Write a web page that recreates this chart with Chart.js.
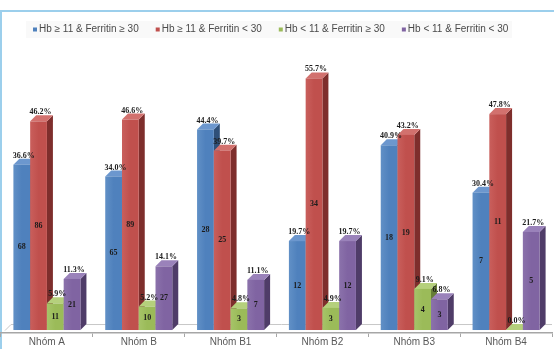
<!DOCTYPE html>
<html>
<head>
<meta charset="utf-8">
<script src="https://cdn.jsdelivr.net/npm/chart.js@4/dist/chart.umd.min.js"></script>
<style>
  html,body{margin:0;padding:0;background:#fff;}
  #wrap{position:relative;width:554px;height:349px;}
</style>
</head>
<body>
<div id="wrap"><canvas id="c" width="554" height="349"></canvas></div>
<script>
const categories = ['Nhóm A','Nhóm B','Nhóm B1','Nhóm B2','Nhóm B3','Nhóm B4'];
const seriesNames = ['Hb ≥ 11 & Ferritin ≥ 30','Hb ≥ 11 & Ferritin < 30','Hb < 11 & Ferritin ≥ 30','Hb < 11 & Ferritin < 30'];
const pctHbHighFerHigh = [36.6, 34.0, 44.4, 19.7, 40.9, 30.4];
const pctHbHighFerLow  = [46.2, 46.6, 39.7, 55.7, 43.2, 47.8];
const pctHbLowFerHigh  = [5.9, 5.2, 4.8, 4.9, 9.1, 0.0];
const pctHbLowFerLow   = [11.3, 14.1, 11.1, 19.7, 6.8, 21.7];
const cntHbHighFerHigh = [68, 65, 28, 12, 18, 7];
const cntHbHighFerLow  = [86, 89, 25, 34, 19, 11];
const cntHbLowFerHigh  = [11, 10, 3, 3, 4, 0];
const cntHbLowFerLow   = [21, 27, 7, 12, 3, 5];

const pctSeries = [pctHbHighFerHigh, pctHbHighFerLow, pctHbLowFerHigh, pctHbLowFerLow];
const cntSeries = [cntHbHighFerHigh, cntHbHighFerLow, cntHbLowFerHigh, cntHbLowFerLow];

const faceColors = [
  {front:'#4F81BD', light:'#6190C6', side:'#2F5079', top:'#6C97CE'},
  {front:'#C0504D', light:'#C95F5C', side:'#7E2E2C', top:'#D2716E'},
  {front:'#9BBB59', light:'#A6C469', side:'#667D37', top:'#B5D07C'},
  {front:'#8064A2', light:'#8B72AB', side:'#4F3C68', top:'#9A82BA'}
];
const DX = 6, DY = 6;

const threeD = {
  id: 'threeD',
  beforeDraw(chart) {
    const ctx = chart.ctx;
    ctx.save();
    ctx.fillStyle = '#fff';
    ctx.fillRect(0, 0, chart.width, chart.height);
    ctx.strokeStyle = '#9ccfec';
    ctx.lineWidth = 2;
    ctx.beginPath();
    ctx.moveTo(1, 349); ctx.lineTo(1, 11); ctx.lineTo(554, 11);
    ctx.stroke();
    ctx.fillStyle = '#f9f9f9';
    ctx.fillRect(26, 21, 486, 17);
    ctx.restore();
  },
  beforeDatasetsDraw(chart) {
    const ctx = chart.ctx;
    const y = chart.scales.y;
    const area = chart.chartArea;
    const base = y.getPixelForValue(0);
    ctx.save();
    ctx.strokeStyle = '#c8c8c8';
    ctx.lineWidth = 1;
    ctx.beginPath();
    ctx.moveTo(area.left + 4, base + 0.5);
    ctx.lineTo(area.left + 4 + DX, base - DY + 0.5);
    ctx.lineTo(area.right, base - DY + 0.5);
    ctx.stroke();
    ctx.restore();
  },
  afterDatasetsDraw(chart) {
    const ctx = chart.ctx;
    const n = chart.data.labels.length;
    const metas = chart.data.datasets.map((d, i) => chart.getDatasetMeta(i));
    ctx.save();
    for (let i = 0; i < n; i++) {
      for (let j = 0; j < metas.length; j++) {
        const el = metas[j].data[i];
        const p = el.getProps(['x','y','base','width'], true);
        const x0 = p.x - p.width / 2, x1 = p.x + p.width / 2;
        const top = p.y, bot = p.base;
        const c = faceColors[j];
        ctx.fillStyle = c.side;
        ctx.beginPath();
        ctx.moveTo(x1, bot); ctx.lineTo(x1 + DX, bot - DY);
        ctx.lineTo(x1 + DX, top - DY); ctx.lineTo(x1, top);
        ctx.closePath(); ctx.fill();
        ctx.fillStyle = c.top;
        ctx.beginPath();
        ctx.moveTo(x0, top); ctx.lineTo(x1, top);
        ctx.lineTo(x1 + DX, top - DY); ctx.lineTo(x0 + DX, top - DY);
        ctx.closePath(); ctx.fill();
        const g = ctx.createLinearGradient(x0, 0, x1, 0);
        g.addColorStop(0, c.light); g.addColorStop(0.5, c.front); g.addColorStop(1, c.front);
        ctx.fillStyle = g;
        ctx.fillRect(x0, top, x1 - x0, bot - top);
      }
    }
    ctx.fillStyle = '#1c1c1c';
    ctx.font = 'bold 8px "Liberation Serif", "DejaVu Serif", serif';
    ctx.textAlign = 'center';
    for (let i = 0; i < n; i++) {
      for (let j = 0; j < metas.length; j++) {
        const el = metas[j].data[i];
        const p = el.getProps(['x','y','base','width'], true);
        ctx.textBaseline = 'bottom';
        ctx.fillText(pctSeries[j][i].toFixed(1) + '%', p.x + 2, p.y - DY + 1);
        const cnt = cntSeries[j][i];
        if (cnt > 0) {
          ctx.textBaseline = 'middle';
          ctx.fillText(String(cnt), p.x, (p.y + p.base) / 2);
        }
      }
    }
    ctx.restore();
  },
  afterDraw(chart) {
    const ctx = chart.ctx;
    ctx.save();
    ctx.font = '10px "Liberation Sans", Arial, sans-serif';
    ctx.textBaseline = 'middle';
    ctx.textAlign = 'left';
    let x = 33;
    const yc = 29.5;
    chart.data.datasets.forEach((ds, j) => {
      ctx.fillStyle = faceColors[j].front;
      ctx.fillRect(x, yc - 2, 4, 4);
      ctx.fillStyle = '#4a4a4a';
      ctx.fillText(ds.label, x + 6, yc);
      x += 6 + ctx.measureText(ds.label).width + 17;
    });
    ctx.restore();
  }
};

new Chart(document.getElementById('c'), {
  type: 'bar',
  data: {
    labels: categories,
    datasets: seriesNames.map((name, j) => ({
      label: name,
      data: pctSeries[j],
      backgroundColor: 'rgba(0,0,0,0)',
      borderWidth: 0,
      categoryPercentage: 0.73,
      barPercentage: 1
    }))
  },
  options: {
    responsive: false,
    animation: false,
    devicePixelRatio: 1,
    layout: { padding: { left: 1, right: 2, top: 59, bottom: 2 } },
    plugins: { legend: { display: false }, tooltip: { enabled: false } },
    scales: {
      x: {
        grid: { display: true, drawOnChartArea: false, offset: true, tickLength: 4, color: '#a6a6a6' },
        border: { display: true, color: '#a6a6a6', width: 1.5 },
        ticks: { color: '#595959', font: { family: '"Liberation Sans", Arial, sans-serif', size: 10, lineHeight: 1 }, padding: 0 }
      },
      y: {
        display: false,
        min: -0.66,
        max: 60
      }
    }
  },
  plugins: [threeD]
});
</script>
</body>
</html>
